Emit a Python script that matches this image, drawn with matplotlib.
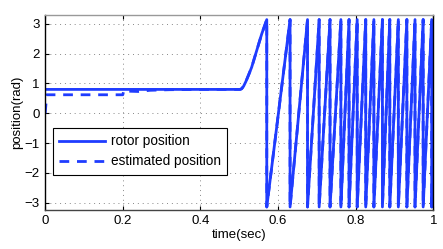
import numpy as np
import matplotlib
matplotlib.use('Agg')
import matplotlib.pyplot as plt

plt.rcParams['font.family'] = ['Liberation Sans', 'DejaVu Sans']

# rotor position before the first wrap
t_start = [0.0, 0.502, 0.506, 0.511, 0.517, 0.524, 0.532, 0.545, 0.558, 0.571]
p_start = [0.80, 0.80, 0.82, 0.90, 1.06, 1.28, 1.54, 2.10, 2.66, 3.14]

# times where the angle wraps from +pi to -pi
t_wrap = [0.571, 0.631, 0.676, 0.706, 0.734, 0.762, 0.783, 0.804, 0.826,
          0.847, 0.869, 0.888, 0.910, 0.932, 0.953, 0.974, 0.996]
p_end = -1.9  # value at t = 1

# estimated position before it joins the rotor curve
t_est = [0.0, 0.004, 0.200, 0.203, 0.215, 0.240, 0.270, 0.320, 0.400]
p_est = [0.0, 0.62, 0.62, 0.78, 0.74, 0.73, 0.77, 0.79, 0.80]

# build the rotor trace
t_rot = list(t_start)
p_rot = list(p_start)
for i, w in enumerate(t_wrap):
    if i > 0:
        t_rot.append(w)
        p_rot.append(np.pi)
    t_rot.append(w)
    p_rot.append(-np.pi)
t_rot.append(1.0)
p_rot.append(p_end)

t_rot = np.array(t_rot)
p_rot = np.array(p_rot)

# estimated follows rotor after t_est ends
mask = t_rot > t_est[-1]
t_e = np.concatenate([t_est, t_rot[mask]])
p_e = np.concatenate([p_est, p_rot[mask]])

fig = plt.figure(figsize=(4.43, 2.49), dpi=100)
ax = fig.add_axes([0.102, 0.157, 0.876, 0.781])

blue = '#1f3cff'
ax.plot(t_rot, p_rot, color=blue, lw=2.0, label='rotor position')
ax.plot(t_e, p_e, color=blue, lw=2.0, dashes=(3.5, 2.8), label='estimated position')

ax.set_xlim(0, 1)
ax.set_ylim(-3.24, 3.28)
ax.set_xticks([0, 0.2, 0.4, 0.6, 0.8, 1])
ax.set_xticklabels(['0', '0.2', '0.4', '0.6', '0.8', '1'])
ax.set_yticks([-3, -2, -1, 0, 1, 2, 3])
ax.tick_params(direction='in', length=3, top=True, right=True, labelsize=9.5, pad=4)
ax.grid(True, color='#888888', linestyle=(0, (1, 4)), lw=0.7)

ax.spines['top'].set_color('#999999')
ax.spines['bottom'].set_color('#444444')
for s in ax.spines.values():
    s.set_linewidth(1.0)

ax.set_xlabel('time(sec)', fontsize=9.5, labelpad=1)
ax.set_ylabel('position(rad)', fontsize=9.5, labelpad=1)

leg = ax.legend(loc='upper left', bbox_to_anchor=(0.02, 0.42), fontsize=9.8,
                handlelength=3.4, fancybox=False, framealpha=1,
                borderpad=0.45, labelspacing=0.45, handletextpad=0.4,
                borderaxespad=0)
leg.get_frame().set_edgecolor('black')
leg.get_frame().set_linewidth(0.8)

fig.savefig('out.png', dpi=100)
